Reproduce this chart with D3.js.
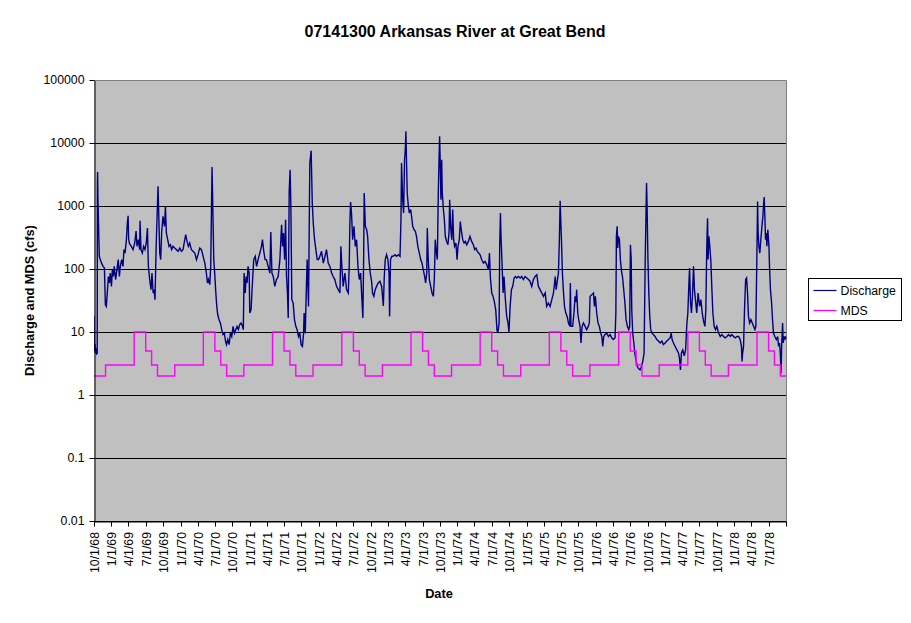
<!DOCTYPE html>
<html>
<head>
<meta charset="utf-8">
<script src="https://cdn.jsdelivr.net/npm/d3@7"></script>
<style>
    body { margin: 0; background: #fff; }
    svg text { font-family: "Liberation Sans", Arial, sans-serif; fill: #000; }
</style>
</head>
<body>
<svg id="chart" width="911" height="623"></svg>
<script>
// chart data
const chartTitle = '07141300 Arkansas River at Great Bend';
const yTitle = 'Discharge and MDS (cfs)';
const xTitle = 'Date';
const seriesNames = ['Discharge', 'MDS'];

const startDate = new Date(1968, 9, 1);
const endDate = new Date(1978, 9, 1);
const yTicks = [0.01, 0.1, 1, 10, 100, 1000, 10000, 100000];

// MDS (cfs) by month, one row per water year, Oct .. Sep
const mdsMonthly = [
    [2, 2, 3, 3, 3, 3, 3, 10, 10, 5, 3, 2], // 1969
    [2, 2, 3, 3, 3, 3, 3, 10, 10, 5, 3, 2], // 1970
    [2, 2, 3, 3, 3, 3, 3, 10, 10, 5, 3, 2], // 1971
    [2, 2, 3, 3, 3, 3, 3, 10, 10, 5, 3, 2], // 1972
    [2, 2, 3, 3, 3, 3, 3, 10, 10, 5, 3, 2], // 1973
    [2, 2, 3, 3, 3, 3, 3, 10, 10, 5, 3, 2], // 1974
    [2, 2, 3, 3, 3, 3, 3, 10, 10, 5, 3, 2], // 1975
    [2, 2, 3, 3, 3, 3, 3, 10, 10, 5, 3, 2], // 1976
    [2, 2, 3, 3, 3, 3, 3, 10, 10, 5, 3, 2], // 1977
    [2, 2, 3, 3, 3, 3, 3, 10, 10, 5, 3, 2]  // 1978
];

// discharge: [days after 10/1/68, cfs]
const discharge = [
    [0,18],[1,6],[3,5],[5,6.5],[8,4.6],[11,5.5],[14,4.5],[17,4.6],[18,2300],[19,3460],[21,1260],[25,372],[28,159],[33,141],[40,124],[48,110],[55,104],[60,27],[65,25.5],[70,41.6],[76,76],[81,60],[86,86],[92,53],[97,97],[102,76],[107,110],[114,68],[121,97],[128,141],[134,76],[139,110],[146,141],[153,110],[158,203],[164,179],[171,292],[176,537],[180,700],[183,292],[188,250],[197,229],[206,203],[215,259],[222,400],[227,229],[234,292],[241,203],[243,585],[248,203],[255,179],[262,229],[269,203],[276,259],[282,448],[287,110],[294,68],[301,47],[306,86],[312,41.6],[317,47],[322,32.6],[328,229],[333,685],[338,2050],[342,685],[347,179],[352,141],[357,372],[364,685],[372,475],[377,990],[382,372],[389,292],[396,229],[403,243],[410,203],[417,229],[426,215],[435,203],[444,191],[453,215],[461,191],[470,203],[479,292],[484,350],[491,274],[498,229],[505,259],[514,203],[523,191],[532,179],[541,141],[549,169],[558,215],[567,203],[576,159],[585,124],[593,86],[599,60],[604,68],[611,56.5],[616,110],[620,880],[623,4150],[627,990],[632,141],[637,86],[643,41.6],[648,25.5],[653,18.8],[660,15.7],[667,13.9],[674,10.9],[681,9.1],[688,9.6],[694,7.2],[699,6.3],[706,7.6],[713,6.3],[720,9.6],[727,8.5],[734,12.3],[741,9.6],[748,10.9],[755,12.3],[762,10.9],[769,13.1],[776,13.9],[784,12.3],[788,10.9],[792,86],[798,41.6],[803,76],[808,60],[813,110],[819,86],[822,20],[829,22.6],[836,60],[843,141],[851,159],[858,110],[866,141],[875,179],[884,229],[889,292],[896,191],[903,141],[910,141],[919,110],[928,86],[933,386],[939,86],[946,76],[954,53],[963,68],[972,76],[981,141],[990,505],[995,229],[1000,372],[1006,141],[1011,607],[1016,76],[1021,41.6],[1025,16.7],[1030,1700],[1035,3770],[1039,990],[1044,32.6],[1051,28.9],[1058,15.7],[1065,12.3],[1072,10.9],[1079,8.5],[1086,9.6],[1093,6.3],[1100,5.9],[1106,9.6],[1109,20],[1115,9.6],[1120,41.6],[1125,141],[1132,25.5],[1139,4800],[1146,7550],[1152,1120],[1157,537],[1164,292],[1171,203],[1178,141],[1185,141],[1192,159],[1201,191],[1210,124],[1219,159],[1227,203],[1236,124],[1245,110],
    [1254,86],[1262,76],[1271,68],[1280,53],[1289,47],[1298,41.6],[1303,229],[1308,110],[1315,53],[1324,86],[1333,47],[1342,41.6],[1347,110],[1350,475],[1354,1160],[1359,774],[1365,292],[1372,475],[1379,229],[1386,292],[1393,110],[1400,68],[1407,86],[1414,32.6],[1419,16.7],[1423,141],[1426,1610],[1432,475],[1439,421],[1444,330],[1451,141],[1458,86],[1465,64],[1470,41.6],[1477,36.8],[1484,47],[1491,53],[1500,60],[1509,64],[1518,53],[1527,26],[1532,76],[1537,141],[1544,169],[1551,141],[1557,86],[1560,17.7],[1565,141],[1572,159],[1579,159],[1588,169],[1597,159],[1606,169],[1615,159],[1620,607],[1623,4800],[1629,1260],[1634,774],[1639,5430],[1643,8000],[1646,15300],[1650,4150],[1653,1610],[1659,990],[1664,774],[1671,880],[1676,685],[1682,475],[1689,421],[1696,396],[1702,330],[1709,229],[1717,179],[1724,141],[1731,124],[1738,97],[1745,76],[1750,60],[1756,86],[1759,448],[1764,141],[1770,68],[1777,53],[1784,41.6],[1791,36.8],[1796,68],[1801,292],[1807,179],[1812,141],[1817,1610],[1821,5430],[1824,12800],[1828,3770],[1831,1260],[1835,5430],[1838,1610],[1844,880],[1849,607],[1854,330],[1861,274],[1868,243],[1874,396],[1877,1260],[1882,475],[1888,292],[1893,880],[1898,292],[1903,229],[1910,259],[1916,141],[1921,229],[1928,292],[1933,568],[1938,421],[1946,292],[1953,259],[1960,274],[1967,243],[1976,274],[1984,330],[1993,274],[2002,243],[2009,203],[2016,215],[2023,191],[2030,179],[2037,169],[2046,141],[2055,124],[2064,132],[2073,117],[2081,97],[2087,179],[2092,72],[2099,41.6],[2106,36.8],[2113,30],[2120,22.6],[2127,10.5],[2132,10],[2138,13.9],[2141,229],[2145,774],[2148,330],[2154,110],[2159,41.6],[2164,76],[2171,32.6],[2178,17.7],[2185,13.9],[2190,10],[2196,25.5],[2203,47],[2210,53],[2217,72],[2224,76],[2231,72],[2240,76],[2249,72],[2257,76],[2266,68],[2275,76],[2284,72],[2293,68],[2301,64],[2310,53],[2319,68],[2328,76],[2337,81],[2345,53],[2354,47],[2363,41.6],[2372,36.8],[2381,41.6],[2389,25.5],[2398,28.9],[2407,25.5],[2416,32.6],[2425,41.6],[2434,76],[2439,47],[2446,68],[2451,86],[2456,292],[2460,1210],[2463,640],[2467,292],[2472,86],[2478,41.6],[2483,25.5],[2490,20],[2497,17.7],[2504,13.9],[2511,12.3],
    [2514,60],[2517,12.3],[2526,12.3],[2533,20],[2539,36.8],[2544,30],[2547,47],[2553,20],[2558,15.7],[2565,12.3],[2570,6.7],[2576,12.3],[2583,13.9],[2592,12.3],[2600,10.9],[2609,12.3],[2614,13.9],[2618,36.8],[2627,39],[2636,41.6],[2641,25.5],[2646,36.8],[2653,20],[2660,13.9],[2667,12.3],[2674,9.6],[2680,8.5],[2685,5.9],[2690,8.5],[2697,9.1],[2706,9.6],[2715,8.5],[2724,9.1],[2732,8.1],[2741,7.6],[2750,8.1],[2754,20],[2757,330],[2761,475],[2764,215],[2768,330],[2773,292],[2778,141],[2783,97],[2789,76],[2794,53],[2801,31],[2808,15.7],[2815,12.3],[2822,10.9],[2827,12.3],[2831,243],[2835,141],[2838,22.6],[2843,9.6],[2849,6.7],[2854,4.6],[2861,3.5],[2868,2.8],[2875,2.6],[2882,2.5],[2889,2.8],[2896,3.4],[2903,4.6],[2909,141],[2912,475],[2916,2320],[2919,990],[2923,159],[2928,41.6],[2933,17.7],[2938,10.9],[2945,9.6],[2952,9.1],[2961,8.5],[2970,7.6],[2979,7.2],[2988,6.7],[2997,7.2],[3005,6.3],[3014,6.7],[3023,7.2],[3032,7.6],[3041,8.1],[3046,9.6],[3051,7.6],[3058,6.7],[3067,5.9],[3076,5.2],[3085,4.6],[3090,3.8],[3095,2.5],[3100,4.6],[3107,5.2],[3115,4.2],[3122,5.2],[3129,13.9],[3134,20],[3139,53],[3143,104],[3148,30],[3153,20],[3159,41.6],[3164,110],[3169,47],[3174,32.6],[3181,20],[3188,41.6],[3196,25.5],[3203,32.6],[3210,20],[3217,14.8],[3224,12.3],[3229,22.6],[3234,229],[3238,640],[3241,141],[3245,330],[3250,229],[3255,141],[3261,47],[3266,20],[3273,12.3],[3280,10.9],[3287,12.3],[3296,9.6],[3305,8.5],[3314,9.1],[3322,8.5],[3331,8.1],[3340,8.5],[3349,9.1],[3358,8.5],[3366,9.1],[3375,8.5],[3384,8.1],[3393,8.5],[3402,8.5],[3410,7.6],[3417,5.9],[3420,3.4],[3423,4.6],[3428,5.9],[3433,22.6],[3439,68],[3444,72],[3449,41.6],[3454,17.7],[3460,13.9],[3467,15.7],[3474,13.9],[3481,12.3],[3488,10.9],[3493,12.3],[3498,141],[3502,1180],[3505,372],[3509,229],[3514,179],[3519,292],[3525,475],[3530,685],[3533,990],[3537,1390],[3541,607],[3544,292],[3548,372],[3551,229],[3556,421],[3562,229],[3565,110],[3570,47],[3576,28.9],[3581,15.7],[3586,9.6],[3593,8.5],[3601,7.6],[3608,8.5],[3613,5.9],[3618,6.7],[3622,4.6],[3626,2.2],[3629,5.9],[3634,13.9],[3637,6.7],[3643,8.5],[3648,7.6],[3651,8.5]
];

// -------------------------
(function () {
    const svg = d3.select('#chart');
    const plot = { left: 94, right: 786, top: 80, bottom: 521 };

    const x = d3.scaleTime().domain([startDate, endDate]).range([plot.left, plot.right]);
    const y = d3.scaleLog().domain([0.01, 100000]).range([plot.bottom, plot.top]);

    const dischargeData = discharge.map(d => ({ date: d3.timeDay.offset(startDate, d[0]), value: d[1] }));

    const mdsData = [];
    mdsMonthly.forEach((row, i) => {
        row.forEach((v, m) => {
            mdsData.push({ date: new Date(1968 + i, 9 + m, 1), value: v });
        });
    });
    mdsData.push({ date: endDate, value: mdsData[mdsData.length - 1].value });

    // plot background
    svg.append('rect')
        .attr('x', plot.left).attr('y', plot.top)
        .attr('width', plot.right - plot.left).attr('height', plot.bottom - plot.top)
        .attr('fill', '#c0c0c0');

    // gridlines
    svg.append('g')
        .selectAll('line')
        .data(yTicks.filter(d => d < 100000))
        .enter()
        .append('line')
        .attr('x1', plot.left).attr('x2', plot.right)
        .attr('y1', d => Math.round(y(d)) + 0.5).attr('y2', d => Math.round(y(d)) + 0.5)
        .attr('stroke', '#000').attr('stroke-width', 1);

    // gray border top / right
    svg.append('path')
        .attr('d', `M${plot.left},${plot.top + 0.5}H${plot.right + 0.5}V${plot.bottom}`)
        .attr('fill', 'none').attr('stroke', '#808080').attr('stroke-width', 1);

    svg.append('clipPath').attr('id', 'clip')
        .append('rect')
        .attr('x', plot.left).attr('y', plot.top)
        .attr('width', plot.right - plot.left + 1).attr('height', plot.bottom - plot.top + 1);

    const line = d3.line()
        .x(d => x(d.date))
        .y(d => y(d.value));

    const lines = svg.append('g').attr('clip-path', 'url(#clip)');

    lines.append('path')
        .datum(dischargeData)
        .attr('fill', 'none')
        .attr('stroke', '#000080')
        .attr('stroke-width', 1.4)
        .attr('stroke-linejoin', 'miter')
        .attr('d', line);

    lines.append('path')
        .datum(mdsData)
        .attr('fill', 'none')
        .attr('stroke', '#ff00ff')
        .attr('stroke-width', 1.4)
        .attr('d', line.curve(d3.curveStepAfter));

    // y axis
    const yAxis = svg.append('g')
        .attr('transform', `translate(${plot.left + 0.5}, 0.5)`)
        .call(d3.axisLeft(y).tickValues(yTicks).tickSize(5).tickSizeOuter(0).tickPadding(5)
            .tickFormat(d => String(d)));
    yAxis.select('.domain').attr('stroke', '#000');
    yAxis.selectAll('text').attr('font-size', '12.3px').attr('fill', '#000');
    yAxis.selectAll('.tick').attr('transform', d => `translate(0, ${Math.round(y(d))})`);

    // x axis
    const monthFmt = d3.timeFormat('%-m/%-d/%y');
    const xAxis = svg.append('g')
        .attr('transform', `translate(0.5, ${plot.bottom + 0.5})`)
        .call(d3.axisBottom(x).ticks(d3.timeMonth.every(3)).tickSize(5).tickSizeOuter(0)
            .tickFormat(d => d >= endDate ? '' : monthFmt(d)));
    xAxis.select('.domain').attr('stroke', '#000');
    xAxis.selectAll('.tick').attr('transform', d => `translate(${Math.round(x(d))}, 0)`);
    xAxis.selectAll('text')
        .attr('font-size', '12.3px')
        .attr('transform', 'rotate(-90)')
        .attr('x', -10.5)
        .attr('y', 0)
        .attr('dy', '0.35em')
        .attr('text-anchor', 'end');

    // titles
    svg.append('text')
        .attr('x', 455).attr('y', 37)
        .attr('text-anchor', 'middle')
        .attr('font-size', '16px').attr('font-weight', 'bold')
        .text(chartTitle);

    svg.append('text')
        .attr('transform', `translate(34, ${(plot.top + plot.bottom) / 2}) rotate(-90)`)
        .attr('text-anchor', 'middle')
        .attr('font-size', '12.8px').attr('font-weight', 'bold')
        .text(yTitle);

    svg.append('text')
        .attr('x', 439).attr('y', 598)
        .attr('text-anchor', 'middle')
        .attr('font-size', '12.8px').attr('font-weight', 'bold')
        .text(xTitle);

    // legend
    const legend = svg.append('g').attr('transform', 'translate(808.5, 278.5)');
    legend.append('rect')
        .attr('width', 93).attr('height', 42)
        .attr('fill', '#fff').attr('stroke', '#000');
    const legendColors = ['#000080', '#ff00ff'];
    const item = legend.selectAll('.lineLegend')
        .data(seriesNames)
        .enter()
        .append('g')
        .attr('class', 'lineLegend')
        .attr('transform', (d, i) => `translate(0, ${12 + i * 20})`);
    item.append('line')
        .attr('x1', 5).attr('x2', 28)
        .attr('stroke', (d, i) => legendColors[i]).attr('stroke-width', 1.2);
    item.append('text')
        .attr('x', 32).attr('dy', '0.35em')
        .attr('font-size', '12.3px')
        .text(d => d);
})();
</script>
</body>
</html>
